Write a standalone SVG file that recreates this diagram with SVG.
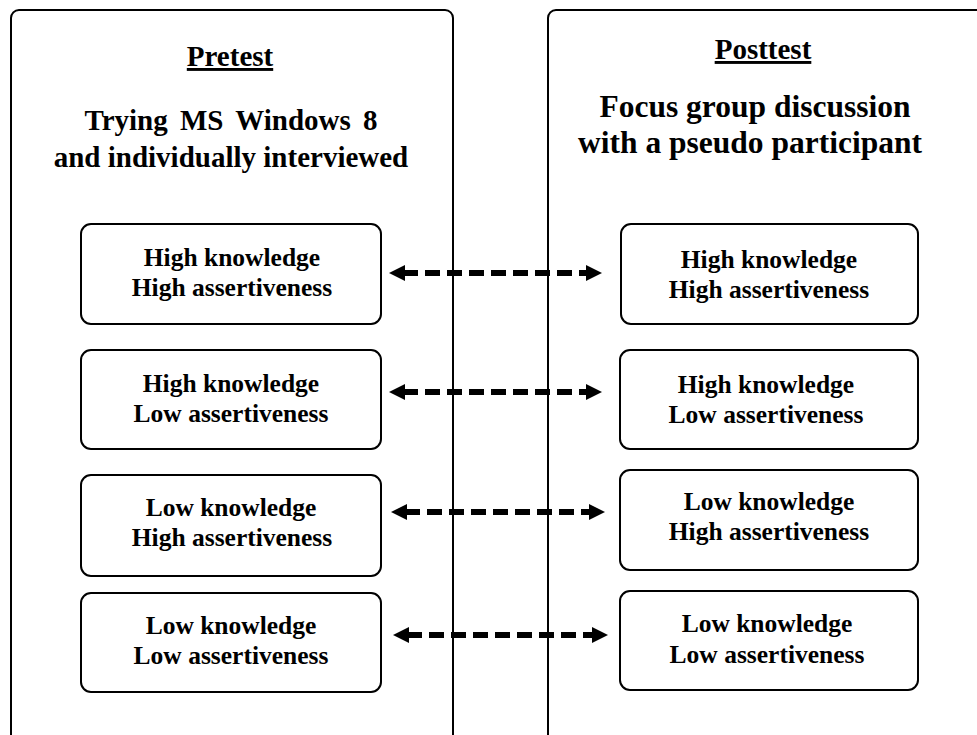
<svg xmlns="http://www.w3.org/2000/svg" width="977" height="735" viewBox="0 0 977 735">
<style>
.panel{fill:#fff;stroke:#000;stroke-width:2}
.box{fill:#fff;stroke:#000;stroke-width:2}
.t{font-family:"Liberation Serif","Times New Roman",serif;font-weight:bold;fill:#000;text-anchor:middle}
.title{font-size:29px;text-decoration:underline}
.sub{font-size:29px}
.sub2{font-size:31.5px}
.lbl{font-size:25.5px}
.conn{stroke:#000;stroke-width:6;stroke-dasharray:15 7;fill:none}
</style>
<defs>
<marker id="ah" markerUnits="userSpaceOnUse" markerWidth="16" markerHeight="16" viewBox="0 0 16 16" refX="2" refY="8" orient="auto-start-reverse">
<path d="M0,0 L16,8 L0,16 Z" fill="#000"/>
</marker>
</defs>
<rect width="977" height="735" fill="#fff"/>
<g id="pretest">
<rect class="panel" x="11" y="10" width="442" height="740" rx="8"/>
<text class="t title" x="230" y="66">Pretest</text>
<text class="t sub" x="231" y="130" word-spacing="5">Trying MS Windows 8</text>
<text class="t sub" x="231" y="167">and individually interviewed</text>
</g>
<g id="posttest">
<rect class="panel" x="548" y="10" width="450" height="740" rx="8"/>
<text class="t title" x="763" y="59">Posttest</text>
<text class="t sub2" x="755" y="117">Focus group discussion</text>
<text class="t sub2" x="750" y="153">with a pseudo participant</text>
</g>
<g id="pre-hh">
<rect class="box" x="81" y="224" width="300" height="100" rx="10"/>
<text class="t lbl" x="232" y="266">High knowledge</text>
<text class="t lbl" x="232" y="296">High assertiveness</text>
</g>
<g id="pre-hl">
<rect class="box" x="81" y="350" width="300" height="99" rx="10"/>
<text class="t lbl" x="231" y="392">High knowledge</text>
<text class="t lbl" x="231" y="422">Low assertiveness</text>
</g>
<g id="pre-lh">
<rect class="box" x="81" y="475" width="300" height="101" rx="10"/>
<text class="t lbl" x="231" y="516">Low knowledge</text>
<text class="t lbl" x="232" y="546">High assertiveness</text>
</g>
<g id="pre-ll">
<rect class="box" x="81" y="593" width="300" height="99" rx="10"/>
<text class="t lbl" x="231" y="634">Low knowledge</text>
<text class="t lbl" x="231" y="664">Low assertiveness</text>
</g>
<g id="post-hh">
<rect class="box" x="621" y="224" width="297" height="100" rx="10"/>
<text class="t lbl" x="769" y="268">High knowledge</text>
<text class="t lbl" x="769" y="298">High assertiveness</text>
</g>
<g id="post-hl">
<rect class="box" x="620" y="350" width="298" height="99" rx="10"/>
<text class="t lbl" x="766" y="393">High knowledge</text>
<text class="t lbl" x="766" y="423">Low assertiveness</text>
</g>
<g id="post-lh">
<rect class="box" x="620" y="470" width="298" height="100" rx="10"/>
<text class="t lbl" x="769" y="510">Low knowledge</text>
<text class="t lbl" x="769" y="540">High assertiveness</text>
</g>
<g id="post-ll">
<rect class="box" x="620" y="591" width="298" height="99" rx="10"/>
<text class="t lbl" x="767" y="632">Low knowledge</text>
<text class="t lbl" x="767" y="663">Low assertiveness</text>
</g>
<g id="connectors">
<line class="conn" x1="403" y1="273" x2="588" y2="273" marker-start="url(#ah)" marker-end="url(#ah)"/>
<line class="conn" x1="403" y1="392" x2="588" y2="392" marker-start="url(#ah)" marker-end="url(#ah)"/>
<line class="conn" x1="405" y1="512" x2="591" y2="512" marker-start="url(#ah)" marker-end="url(#ah)"/>
<line class="conn" x1="407" y1="635" x2="594" y2="635" marker-start="url(#ah)" marker-end="url(#ah)"/>
</g>
</svg>
